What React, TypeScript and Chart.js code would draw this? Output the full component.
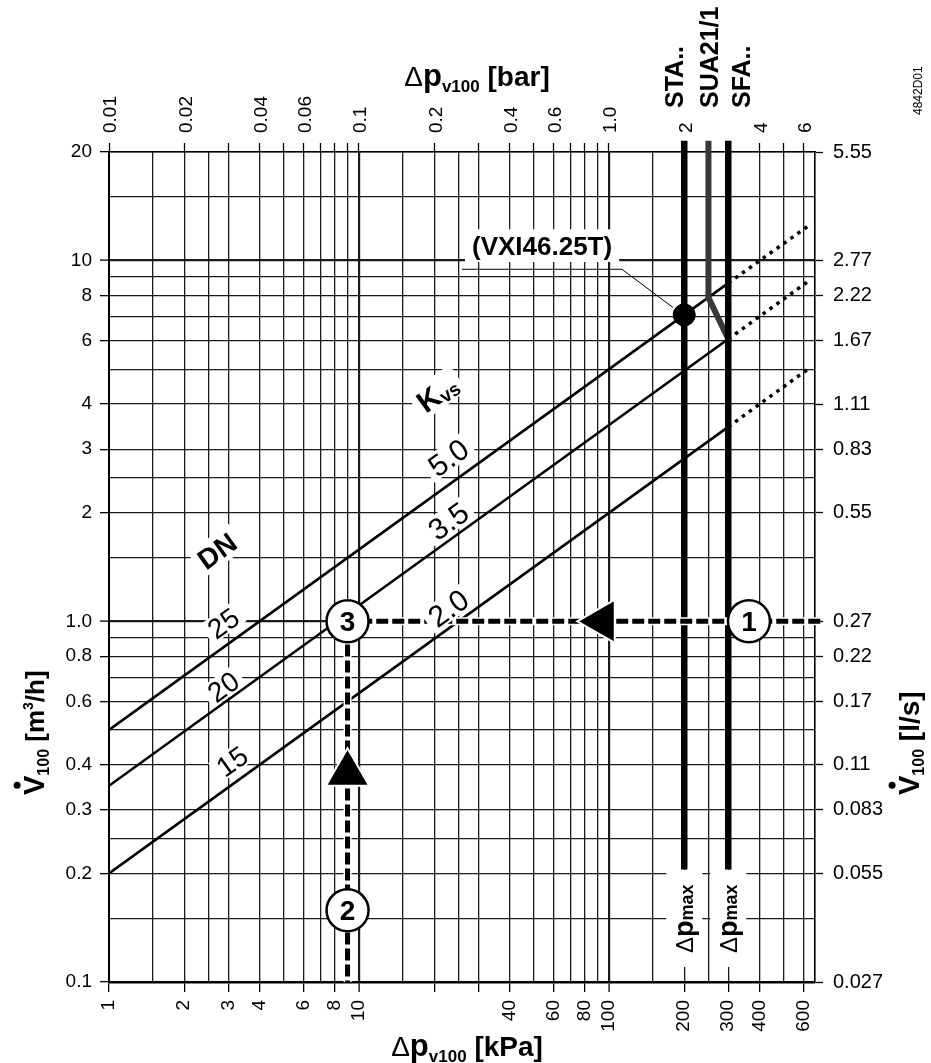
import React, { useEffect, useRef } from 'react';
import { Chart, registerables } from 'chart.js';

Chart.register(...registerables);

const FONT = "'Liberation Sans', Arial, Helvetica, sans-serif";

// ---------- axis ranges ----------
const dpMin = 1;
const dpMax = 667;
const flowMin = 0.1;
const flowMax = 20;

// ---------- x (pressure drop, kPa) grid & ticks ----------
const dpGrid = [1, 1.5, 2, 2.5, 3, 4, 5, 6, 7, 8, 9, 10, 15, 20, 25, 30, 40, 50, 60, 70, 80, 90, 100, 150, 200, 250, 300, 400, 500, 600];
const dpMajorLines = [10, 100];
const dpBottomLabelValues = [1, 2, 3, 4, 6, 8, 10, 40, 60, 80, 100, 200, 300, 400, 600];
const dpBottomLabels = ['1', '2', '3', '4', '6', '8', '10', '40', '60', '80', '100', '200', '300', '400', '600'];
const dpBottomTickMarks = [1, 2, 3, 4, 6, 8, 10, 20, 30, 40, 60, 80, 100, 200, 300, 400, 600];
const dpTopTickMarks = [1, 2, 3, 4, 5, 6, 7, 8, 9, 10, 20, 30, 40, 50, 60, 70, 80, 90, 100, 200, 300, 400, 500, 600];
const barTopLabelValues = [1, 2, 4, 6, 10, 20, 40, 60, 100, 200, 400, 600];
const barTopLabels = ['0.01', '0.02', '0.04', '0.06', '0.1', '0.2', '0.4', '0.6', '1.0', '2', '4', '6'];

// ---------- y (flow) grid & ticks ----------
const flowGrid = [0.1, 0.15, 0.2, 0.25, 0.3, 0.4, 0.5, 0.6, 0.7, 0.8, 0.9, 1, 1.5, 2, 2.5, 3, 4, 5, 6, 7, 8, 9, 10, 15, 20];
const flowMajorLines = [1, 10];
const flowLabelValues = [0.1, 0.2, 0.3, 0.4, 0.6, 0.8, 1, 2, 3, 4, 6, 8, 10, 20];
const flowLabelsM3h = ['0.1', '0.2', '0.3', '0.4', '0.6', '0.8', '1.0', '2', '3', '4', '6', '8', '10', '20'];
const flowLabelsLs = ['0.027', '0.055', '0.083', '0.11', '0.17', '0.22', '0.27', '0.55', '0.83', '1.11', '1.67', '2.22', '2.77', '5.55'];

// ---------- kvs lines ----------
const kvsValues = ['5.0', '3.5', '2.0'];
const kvsStartDp = 1;
const kvsStartFlow = [0.5, 0.35, 0.2];
const kvsSolidEndDp = 300;
const kvsSolidEndFlow = [8.66, 6.06, 3.46];
const kvsDottedEndDp = 640;
const kvsDottedEndFlow = [12.6, 8.85, 5.06];
const kvsLabelDp = [22.7, 22.7, 22.7];
const kvsLabelFlow = [2.85, 1.9, 1.09];
const dnLabels = ['25', '20', '15'];
const dnLabelDp = [2.86, 2.86, 3.1];
const dnLabelFlow = [0.99, 0.66, 0.41];

// ---------- actuator limit lines ----------
const staDp = 200;
const suaDp = 250;
const sfaDp = 300;
const actuatorTopFlow = 21.5;
const actuatorBottomFlow = 0.205;
const suaBendFlow = 7.9;
const suaEndFlow = 6.06;

// ---------- VXI46.25T point ----------
const vxiDp = 200;
const vxiFlow = 7.07;
const leaderDp = [25.8, 112.7, 180];
const leaderFlow = [9.46, 9.46, 7.42];
const vxiLabelDp = 54;
const vxiLabelFlow = 11;

// ---------- worked example ----------
const exampleDp = 9;
const exampleFlow = 1.0;
const exampleRightDp = 700;
const circleDp = [363, 9, 9];
const circleFlow = [1.0, 0.158, 1.0];
const circleLabels = ['1', '2', '3'];
const arrowLeftDp = 94;
const arrowLeftFlow = 1.0;
const arrowUpDp = 9;
const arrowUpFlow = 0.379;

type Seg = { t: string; f: string; dy?: number };

function segWidth(ctx: CanvasRenderingContext2D, segs: Seg[]) {
  let w = 0;
  for (const s of segs) {
    ctx.font = s.f;
    w += ctx.measureText(s.t).width;
  }
  return w;
}

function drawSegs(ctx: CanvasRenderingContext2D, segs: Seg[], x: number, y: number, angle: number, align: string) {
  ctx.save();
  ctx.translate(x, y);
  ctx.rotate(angle);
  ctx.textAlign = 'left';
  ctx.textBaseline = 'alphabetic';
  ctx.fillStyle = '#000';
  const w = segWidth(ctx, segs);
  let cx = align === 'center' ? -w / 2 : align === 'right' ? -w : 0;
  for (const s of segs) {
    ctx.font = s.f;
    ctx.fillText(s.t, cx, s.dy || 0);
    cx += ctx.measureText(s.t).width;
  }
  ctx.restore();
  return w;
}

function boxedLabel(ctx: CanvasRenderingContext2D, segs: Seg[], x: number, y: number, angle: number, size: number, padX: number, padY: number) {
  ctx.save();
  ctx.translate(x, y);
  ctx.rotate(angle);
  const w = segWidth(ctx, segs);
  const capH = size * 0.72;
  ctx.fillStyle = '#fff';
  ctx.fillRect(-w / 2 - padX, -capH / 2 - padY, w + 2 * padX, capH + 2 * padY);
  ctx.fillStyle = '#000';
  ctx.textAlign = 'left';
  ctx.textBaseline = 'alphabetic';
  let cx = -w / 2;
  for (const s of segs) {
    ctx.font = s.f;
    ctx.fillText(s.t, cx, capH / 2 + (s.dy || 0));
    cx += ctx.measureText(s.t).width;
  }
  ctx.restore();
}

const annotationPlugin = {
  id: 'annotations',
  afterDatasetsDraw(chart: any) {
    const ctx: CanvasRenderingContext2D = chart.ctx;
    const xs = chart.scales.x;
    const ys = chart.scales.y;
    const px = (v: number) => xs.getPixelForValue(v);
    const py = (v: number) => ys.getPixelForValue(v);
    const xDec = px(10) - px(1);
    const yDec = py(1) - py(10);
    const ang = -Math.atan((0.5 * yDec) / xDec);

    // DN labels
    boxedLabel(ctx, [{ t: 'DN', f: `bold 28px ${FONT}` }], px(2.7), py(1.57), ang, 28, 5, 5);
    dnLabels.forEach((t, i) => {
      boxedLabel(ctx, [{ t, f: `28px ${FONT}` }], px(dnLabelDp[i]), py(dnLabelFlow[i]), ang, 28, 5, 2);
    });
    // kvs labels
    boxedLabel(ctx, [{ t: 'K', f: `bold 30px ${FONT}` }, { t: 'vs', f: `bold 19px ${FONT}`, dy: 3 }], px(20.5), py(4.3), ang, 30, 5, 5);
    kvsValues.forEach((t, i) => {
      boxedLabel(ctx, [{ t, f: `30px ${FONT}` }], px(kvsLabelDp[i]), py(kvsLabelFlow[i]), ang, 30, 5, 2);
    });
    // VXI label
    boxedLabel(ctx, [{ t: '(VXI46.25T)', f: `bold 26px ${FONT}` }], px(vxiLabelDp), py(vxiLabelFlow), 0, 26, 7, 7);

    // actuator names
    const staX = px(staDp), suaX = px(suaDp), sfaX = px(sfaDp);
    const vert = -Math.PI / 2;
    drawSegs(ctx, [{ t: 'STA..', f: `bold 25px ${FONT}` }], staX - 1, 108, vert, 'left');
    drawSegs(ctx, [{ t: 'SUA21/1', f: `bold 25px ${FONT}` }], suaX + 10, 108, vert, 'left');
    drawSegs(ctx, [{ t: 'SFA..', f: `bold 25px ${FONT}` }], sfaX + 22, 108, vert, 'left');
    drawSegs(ctx, [{ t: '4842D01', f: `12px ${FONT}` }], 922, 115, vert, 'left');

    // dp max labels
    [staX, sfaX].forEach((lx) => {
      ctx.save();
      ctx.fillStyle = '#fff';
      ctx.fillRect(lx - 18, 870, 36, 97);
      ctx.restore();
      drawSegs(ctx, [
        { t: '\u0394', f: `24px ${FONT}` },
        { t: 'p', f: `bold 27px ${FONT}` },
        { t: 'max', f: `bold 18px ${FONT}` },
      ], lx + 9, 953, vert, 'left');
    });

    // circle numbers
    circleLabels.forEach((t, i) => {
      ctx.save();
      ctx.font = `bold 28px ${FONT}`;
      ctx.fillStyle = '#000';
      ctx.textAlign = 'center';
      ctx.textBaseline = 'alphabetic';
      ctx.fillText(t, px(circleDp[i]), py(circleFlow[i]) + 10);
      ctx.restore();
    });

    // axis titles
    const titleSegs = (unit: string): Seg[] => [
      { t: '\u0394', f: `28px ${FONT}` },
      { t: 'p', f: `bold 31px ${FONT}` },
      { t: 'v100', f: `bold 17px ${FONT}`, dy: 6 },
      { t: ' ' + unit, f: `bold 28px ${FONT}` },
    ];
    drawSegs(ctx, titleSegs('[bar]'), 477, 86, 0, 'center');
    drawSegs(ctx, titleSegs('[kPa]'), 467, 1056, 0, 'center');

    const drawFlowTitle = (bx: number, by: number, unit: Seg[]) => {
      const vFont = `bold 29px ${FONT}`;
      drawSegs(ctx, [
        { t: 'V', f: vFont },
        { t: '100', f: `bold 16px ${FONT}`, dy: 5 },
        ...unit,
      ], bx, by, vert, 'left');
      ctx.save();
      ctx.font = vFont;
      const vw = ctx.measureText('V').width;
      ctx.translate(bx, by);
      ctx.rotate(vert);
      ctx.fillStyle = '#000';
      ctx.beginPath();
      ctx.arc(vw / 2, -29 * 0.72 - 6, 3.5, 0, Math.PI * 2);
      ctx.fill();
      ctx.restore();
    };
    drawFlowTitle(44, 795, [
      { t: ' [m', f: `bold 26px ${FONT}` },
      { t: '3', f: `bold 14px ${FONT}`, dy: -11 },
      { t: '/h]', f: `bold 26px ${FONT}` },
    ]);
    drawFlowTitle(919, 795, [{ t: ' [l/s]', f: `bold 28px ${FONT}` }]);
  },
};

const lookup = (vals: number[], labels: string[]) => (v: any) => {
  const i = vals.indexOf(Number(v));
  return i >= 0 ? labels[i] : '';
};

export default function App() {
  const ref = useRef<HTMLCanvasElement | null>(null);

  useEffect(() => {
    document.body.style.margin = '0';
    const canvas = ref.current;
    if (!canvas) return;
    const gridColor = '#1a1a1a';

    const line = (pts: { x: number; y: number }[], extra: any) => ({
      data: pts,
      showLine: true,
      pointRadius: 0,
      pointHoverRadius: 0,
      fill: false,
      borderColor: '#000',
      ...extra,
    });

    const datasets: any[] = [];
    // circles
    datasets.push({
      data: circleDp.map((x, i) => ({ x, y: circleFlow[i] })),
      showLine: false,
      pointRadius: 21,
      pointBackgroundColor: '#fff',
      pointBorderColor: '#000',
      pointBorderWidth: 2.5,
      order: 0,
      clip: false,
    });
    // arrows
    datasets.push({
      data: [{ x: arrowLeftDp, y: arrowLeftFlow }],
      showLine: false,
      pointStyle: 'triangle',
      pointRotation: -90,
      pointRadius: 25,
      pointBackgroundColor: '#000',
      pointBorderColor: '#fff',
      pointBorderWidth: 2,
      order: 1,
    });
    datasets.push({
      data: [{ x: arrowUpDp, y: arrowUpFlow }],
      showLine: false,
      pointStyle: 'triangle',
      pointRotation: 0,
      pointRadius: 25,
      pointBackgroundColor: '#000',
      pointBorderColor: '#fff',
      pointBorderWidth: 2,
      order: 1,
    });
    const examplePath = [
      { x: exampleRightDp, y: exampleFlow },
      { x: exampleDp, y: exampleFlow },
      { x: exampleDp, y: flowMin },
    ];
    datasets.push(line(examplePath, { borderWidth: 5, borderDash: [12, 4], order: 2, clip: false, borderJoinStyle: 'miter' }));
    datasets.push(line(examplePath, { borderWidth: 8, borderColor: '#fff', order: 3, clip: false }));
    // VXI point and leader
    datasets.push({
      data: [{ x: vxiDp, y: vxiFlow }],
      showLine: false,
      pointRadius: 11,
      pointBackgroundColor: '#000',
      pointBorderColor: '#000',
      pointBorderWidth: 1,
      order: 4,
    });
    datasets.push(line(leaderDp.map((x, i) => ({ x, y: leaderFlow[i] })), { borderWidth: 1, order: 5 }));
    // actuator limits
    datasets.push(line([{ x: staDp, y: actuatorBottomFlow }, { x: staDp, y: actuatorTopFlow }], { borderWidth: 6.5, order: 6, clip: false, borderCapStyle: 'butt' }));
    datasets.push(line([{ x: sfaDp, y: actuatorBottomFlow }, { x: sfaDp, y: actuatorTopFlow }], { borderWidth: 6.5, order: 6, clip: false, borderCapStyle: 'butt' }));
    datasets.push(line([{ x: suaDp, y: actuatorTopFlow }, { x: suaDp, y: suaBendFlow }, { x: sfaDp, y: suaEndFlow }], { borderWidth: 6, borderColor: '#383838', order: 6, clip: false, borderJoinStyle: 'miter' }));
    // kvs lines
    kvsStartFlow.forEach((f0, i) => {
      datasets.push(line([{ x: kvsStartDp, y: f0 }, { x: kvsSolidEndDp, y: kvsSolidEndFlow[i] }], { borderWidth: 2.6, order: 7 }));
      datasets.push(line([{ x: kvsSolidEndDp, y: kvsSolidEndFlow[i] }, { x: kvsDottedEndDp, y: kvsDottedEndFlow[i] }], { borderWidth: 3.5, borderDash: [3.5, 5], order: 7 }));
    });

    const chart = new Chart(canvas, {
      type: 'scatter',
      data: { datasets },
      options: {
        responsive: false,
        animation: false,
        events: [],
        layout: { padding: 0, autoPadding: false } as any,
        plugins: { legend: { display: false }, tooltip: { enabled: false } },
        scales: {
          x: {
            type: 'logarithmic',
            position: 'bottom',
            min: dpMin,
            max: dpMax,
            afterBuildTicks: (s: any) => { s.ticks = dpGrid.map((v) => ({ value: v })); },
            afterFit: (s: any) => { s.height = 81; },
            grid: {
              color: gridColor,
              lineWidth: (c: any) => (dpMajorLines.includes(c.tick?.value) ? 2.2 : 1.3),
              tickLength: 10,
              tickWidth: 1.3,
              tickColor: (c: any) => (dpBottomTickMarks.includes(c.tick?.value) ? '#000' : 'rgba(0,0,0,0)'),
            },
            border: { display: true, color: '#000', width: 2.5 },
            ticks: {
              autoSkip: false,
              minRotation: 90,
              maxRotation: 90,
              padding: 8,
              color: '#000',
              font: { family: FONT, size: 19 },
              callback: lookup(dpBottomLabelValues, dpBottomLabels),
            },
          },
          x2: {
            type: 'logarithmic',
            position: 'top',
            min: dpMin,
            max: dpMax,
            afterBuildTicks: (s: any) => { s.ticks = dpTopTickMarks.map((v) => ({ value: v })); },
            afterFit: (s: any) => { s.height = 152; },
            grid: {
              drawOnChartArea: false,
              tickLength: 9,
              tickWidth: 1.3,
              tickColor: '#000',
            },
            border: { display: true, color: '#000', width: 1.6 },
            ticks: {
              autoSkip: false,
              minRotation: 90,
              maxRotation: 90,
              padding: 10,
              labelOffset: 25,
              color: '#000',
              font: { family: FONT, size: 19 },
              callback: lookup(barTopLabelValues, barTopLabels),
            },
          },
          y: {
            type: 'logarithmic',
            position: 'left',
            min: flowMin,
            max: flowMax,
            afterBuildTicks: (s: any) => { s.ticks = flowGrid.map((v) => ({ value: v })); },
            afterFit: (s: any) => { s.width = 109; },
            grid: {
              color: gridColor,
              lineWidth: (c: any) => (flowMajorLines.includes(c.tick?.value) ? 2.2 : 1.3),
              tickLength: 9,
              tickWidth: 1.3,
              tickColor: (c: any) => (flowLabelValues.includes(c.tick?.value) ? '#000' : 'rgba(0,0,0,0)'),
            },
            border: { display: true, color: '#000', width: 2 },
            ticks: {
              autoSkip: false,
              padding: 8,
              color: '#000',
              font: { family: FONT, size: 19 },
              callback: lookup(flowLabelValues, flowLabelsM3h),
            },
          },
          y2: {
            type: 'logarithmic',
            position: 'right',
            min: flowMin,
            max: flowMax,
            afterBuildTicks: (s: any) => { s.ticks = flowLabelValues.map((v) => ({ value: v })); },
            afterFit: (s: any) => { s.width = 116; },
            grid: {
              drawOnChartArea: false,
              tickLength: 8,
              tickWidth: 1.3,
              tickColor: '#000',
            },
            border: { display: true, color: '#000', width: 1.6 },
            ticks: {
              autoSkip: false,
              padding: 10,
              color: '#000',
              font: { family: FONT, size: 20 },
              callback: lookup(flowLabelValues, flowLabelsLs),
            },
          },
        },
      } as any,
      plugins: [annotationPlugin],
    });
    return () => chart.destroy();
  }, []);

  return (
    <div style={{ position: 'absolute', left: 0, top: 0, width: 931, height: 1063, background: '#fff' }}>
      <canvas ref={ref} width={931} height={1063} style={{ display: 'block', width: 931, height: 1063 }} />
    </div>
  );
}
